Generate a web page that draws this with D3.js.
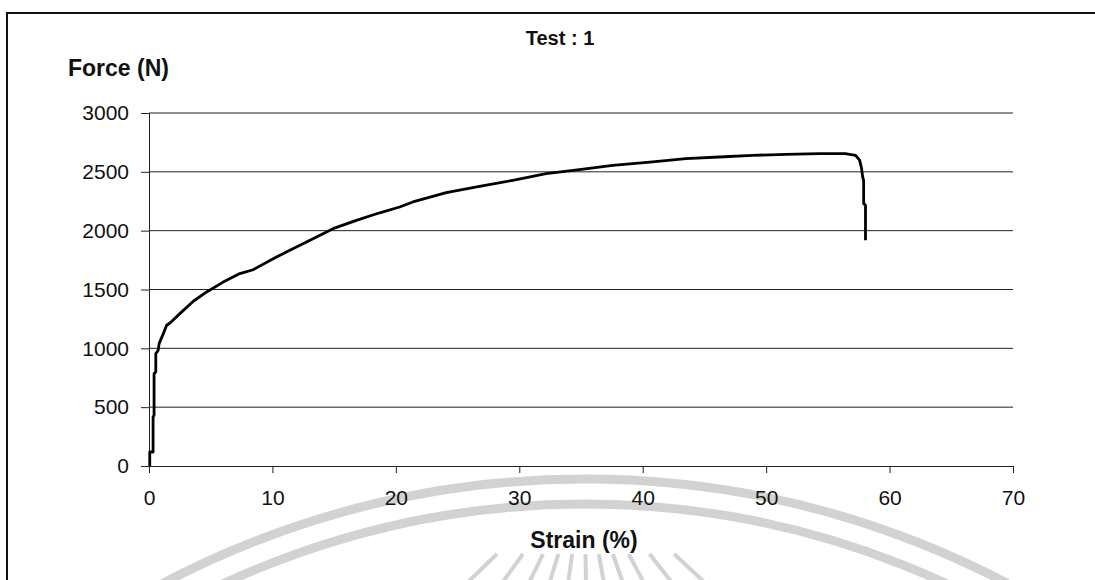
<!DOCTYPE html>
<html>
<head>
<meta charset="utf-8">
<script src="https://cdn.jsdelivr.net/npm/d3@7"></script>
<style>
  html, body { margin: 0; padding: 0; background: #fff; }
  svg { display: block; }
</style>
</head>
<body>
<svg id="chart" width="1095" height="580"></svg>
<script>
// ---- data ----
const strain = [0.06, 0.06, 0.33, 0.33, 0.41, 0.41, 0.55, 0.55, 0.74, 0.82, 1.16, 1.43, 1.7, 2.5, 3.59, 4.67, 6.01, 7.36, 8.44, 10.06, 11.41, 12.76, 14.91, 16.8, 18.69, 20.31, 21.38, 24.08, 26.78, 29.48, 32.17, 34.87, 37.57, 40.8, 43.5, 46.2, 48.9, 51.6, 54.3, 56.4, 57.25, 57.57, 57.73, 57.82, 57.9, 57.9, 58.05, 58.05];
const force  = [0, 119, 119, 416, 431, 785, 799, 955, 983, 1040, 1125, 1196, 1215, 1295, 1400, 1479, 1563, 1635, 1668, 1762, 1833, 1903, 2017, 2088, 2152, 2201, 2244, 2323, 2377, 2428, 2485, 2519, 2555, 2584, 2612, 2626, 2640, 2649, 2655, 2655, 2640, 2600, 2530, 2456, 2428, 2230, 2215, 1918];
const xTicks = [0, 10, 20, 30, 40, 50, 60, 70];
const yTicks = [0, 500, 1000, 1500, 2000, 2500, 3000];
const titleText = "Test : 1";
const yLabel = "Force (N)";
const xLabel = "Strain (%)";

const points = strain.map((s, i) => ({ s, f: force[i] }));

const svg = d3.select("#chart");
const font = "'Liberation Sans', Arial, Helvetica, sans-serif";

const x = d3.scaleLinear().domain([0, 70]).range([149, 1013]);
const y = d3.scaleLinear().domain([0, 3000]).range([466, 113]);

// ---- watermark (light grey decoration from the scan) ----
const wm = svg.append("g").attr("fill", "none").attr("stroke", "#d2d2d2");
wm.append("circle").attr("cx", 585).attr("cy", 479 + 905).attr("r", 905).attr("stroke-width", 9);
wm.append("circle").attr("cx", 585).attr("cy", 504 + 860).attr("r", 860).attr("stroke-width", 9);
const rayAngles = [-46, -36, -26, -17, -8, 1, 10, 19, 28, 38, 47];
rayAngles.forEach(a => {
  const r = a * Math.PI / 180, cx = 584, cy = 470;
  const r0 = 84 / Math.cos(r), r1 = 112 / Math.cos(r);
  wm.append("line")
    .attr("x1", cx + Math.sin(r) * r0).attr("y1", cy + Math.cos(r) * r0)
    .attr("x2", cx + Math.sin(r) * r1).attr("y2", cy + Math.cos(r) * r1)
    .attr("stroke-width", 4);
});

// ---- frame ----
svg.append("path")
  .attr("d", "M7,580 L7,13 L1095,13")
  .attr("fill", "none").attr("stroke", "#111").attr("stroke-width", 2);

// ---- gridlines ----
svg.append("g").selectAll("line").data(yTicks.filter(d => d > 0)).join("line")
  .attr("x1", x(0)).attr("x2", x(70))
  .attr("y1", d => y(d)).attr("y2", d => y(d))
  .attr("stroke", "#222").attr("stroke-width", 1);

// ---- axes ----
const yAxis = d3.axisLeft(y).tickValues(yTicks).tickSize(8).tickPadding(12).tickFormat(d3.format("d"));
const gy = svg.append("g").attr("transform", `translate(${x(0)},0)`).call(yAxis);
gy.select(".domain").attr("stroke", "#222");
gy.selectAll(".tick line").attr("stroke", "#222");
gy.selectAll(".tick text").attr("font-family", font).attr("font-size", 21).attr("fill", "#111");

const xAxis = d3.axisBottom(x).tickValues(xTicks).tickSize(7).tickPadding(17).tickFormat(d3.format("d"));
const gx = svg.append("g").attr("transform", `translate(0,${y(0)})`).call(xAxis);
gx.select(".domain").attr("stroke", "#222");
gx.selectAll(".tick line").attr("stroke", "#222");
gx.selectAll(".tick text").attr("font-family", font).attr("font-size", 21).attr("fill", "#111");

// ---- curve ----
const line = d3.line().x(d => x(d.s)).y(d => y(d.f));
svg.append("path").datum(points)
  .attr("d", line)
  .attr("fill", "none").attr("stroke", "#000").attr("stroke-width", 2.8)
  .attr("stroke-linejoin", "round");

// ---- texts ----
svg.append("text").attr("x", 560).attr("y", 45).attr("text-anchor", "middle")
  .attr("font-family", font).attr("font-weight", "bold").attr("font-size", 20).attr("fill", "#111")
  .text(titleText);
svg.append("text").attr("x", 68).attr("y", 76)
  .attr("font-family", font).attr("font-weight", "bold").attr("font-size", 23).attr("fill", "#111")
  .text(yLabel);
svg.append("text").attr("x", 584).attr("y", 548).attr("text-anchor", "middle")
  .attr("font-family", font).attr("font-weight", "bold").attr("font-size", 23).attr("fill", "#111")
  .text(xLabel);
</script>
</body>
</html>
